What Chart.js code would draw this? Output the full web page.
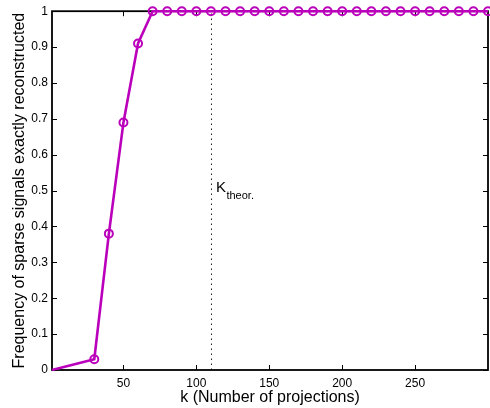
<!DOCTYPE html>
<html>
<head>
<meta charset="utf-8">
<script src="https://cdn.jsdelivr.net/npm/chart.js@4/dist/chart.umd.min.js"></script>
<style>
  html, body { margin: 0; padding: 0; background: #fff; overflow: hidden; }
  #wrap { width: 494px; height: 408px; }
</style>
</head>
<body>
<div id="wrap"><canvas id="c" width="494" height="408"></canvas></div>
<script>
// ---- data ----
const kValues = [1, 30, 40, 50, 60, 70, 80, 90, 100, 110, 120, 130, 140, 150, 160, 170, 180, 190, 200, 210, 220, 230, 240, 250, 260, 270, 280, 290, 300];
const frequency = [0, 0.03, 0.38, 0.69, 0.91, 1, 1, 1, 1, 1, 1, 1, 1, 1, 1, 1, 1, 1, 1, 1, 1, 1, 1, 1, 1, 1, 1, 1, 1];
const xTickValues = [50, 100, 150, 200, 250];
const yTickValues = [0, 0.1, 0.2, 0.3, 0.4, 0.5, 0.6, 0.7, 0.8, 0.9, 1];
const kTheor = 110;
const kTheorLabelY = 0.5;
const xRange = [1, 300];
const yRange = [0, 1];

const FONT = "'Liberation Sans', Arial, Helvetica, sans-serif";
const lineColor = '#bb00bb';

const points = kValues.map((k, i) => ({ x: k, y: frequency[i] }));
const pointRadii = kValues.map((k, i) => (i === 0 ? 0 : 4));

const framePlugin = {
  id: 'frame',
  beforeDatasetsDraw(chart) {
    const { ctx, chartArea: a, scales } = chart;
    const xs = scales.x, ys = scales.y;
    ctx.save();
    // dotted theoretical line
    const xp = xs.getPixelForValue(kTheor);
    ctx.strokeStyle = '#222';
    ctx.lineWidth = 1;
    ctx.setLineDash([1.5, 3.5]);
    ctx.beginPath();
    ctx.moveTo(Math.round(xp) + 0.5, a.bottom);
    ctx.lineTo(Math.round(xp) + 0.5, a.top);
    ctx.stroke();
    ctx.setLineDash([]);
    // box
    ctx.strokeStyle = '#000';
    ctx.lineWidth = 1.8;
    ctx.strokeRect(a.left, a.top, a.right - a.left, a.bottom - a.top);
    // inward ticks
    ctx.lineWidth = 1;
    const tl = 5;
    ctx.beginPath();
    xTickValues.forEach(v => {
      const p = Math.round(xs.getPixelForValue(v)) + 0.5;
      ctx.moveTo(p, a.bottom); ctx.lineTo(p, a.bottom - tl);
      ctx.moveTo(p, a.top); ctx.lineTo(p, a.top + tl);
    });
    yTickValues.forEach(v => {
      const p = Math.round(ys.getPixelForValue(v)) + 0.5;
      ctx.moveTo(a.left, p); ctx.lineTo(a.left + tl, p);
      ctx.moveTo(a.right, p); ctx.lineTo(a.right - tl, p);
    });
    ctx.stroke();
    // K_theor. label
    const yp = ys.getPixelForValue(kTheorLabelY);
    ctx.fillStyle = '#000';
    ctx.textBaseline = 'alphabetic';
    ctx.textAlign = 'left';
    ctx.font = '15px ' + FONT;
    ctx.fillText('K', xp + 5, yp + 1);
    const kw = ctx.measureText('K').width;
    ctx.font = '11px ' + FONT;
    ctx.fillText('theor.', xp + 5 + kw + 0.5, yp + 8);
    ctx.restore();
  }
};

new Chart(document.getElementById('c'), {
  type: 'line',
  data: {
    datasets: [{
      data: points,
      borderColor: lineColor,
      backgroundColor: 'rgba(0,0,0,0)',
      borderWidth: 2.6,
      pointRadius: pointRadii,
      pointBorderWidth: 2,
      pointBorderColor: lineColor,
      pointBackgroundColor: 'rgba(0,0,0,0)',
      tension: 0,
      clip: false
    }]
  },
  options: {
    responsive: false,
    animation: false,
    layout: { padding: { left: 0, top: 11, right: 2, bottom: 0 } },
    plugins: { legend: { display: false }, tooltip: { enabled: false } },
    scales: {
      x: {
        type: 'linear',
        min: xRange[0], max: xRange[1],
        afterBuildTicks(s) { s.ticks = xTickValues.map(v => ({ value: v })); },
        afterFit(s) { s.height = 38; },
        grid: { display: false, drawTicks: false },
        border: { display: false },
        ticks: { padding: 6, color: '#000', font: { family: FONT, size: 12 }, maxRotation: 0, autoSkip: false },
        title: { display: true, text: 'k (Number of projections)', color: '#000', font: { family: FONT, size: 16 }, padding: { top: 0, bottom: 1 } }
      },
      y: {
        type: 'linear',
        min: yRange[0], max: yRange[1],
        afterBuildTicks(s) { s.ticks = yTickValues.map(v => ({ value: v })); },
        afterFit(s) { s.width = 52; },
        grid: { display: false, drawTicks: false },
        border: { display: false },
        ticks: { padding: 4, color: '#000', font: { family: FONT, size: 12 }, autoSkip: false,
                 callback: v => String(Math.round(v * 10) / 10) },
        title: { display: true, text: 'Frequency of sparse signals exactly reconstructed', color: '#000', font: { family: FONT, size: 16 }, padding: { top: 10, bottom: 0 } }
      }
    }
  },
  plugins: [framePlugin]
});
</script>
</body>
</html>
